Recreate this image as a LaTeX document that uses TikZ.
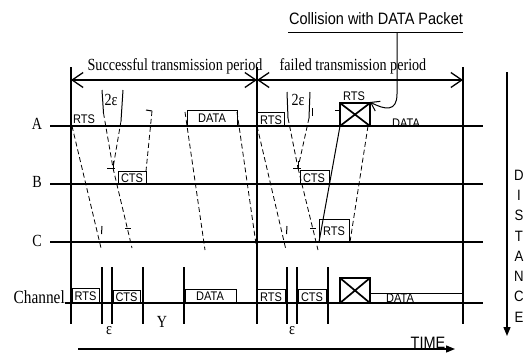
\documentclass[tikz,border=0pt]{standalone}
\usepackage{fontspec}
\setmainfont{Liberation Serif}
\newfontfamily\lblfont{Liberation Serif}[FakeStretch=0.83]
\newfontfamily\pktfont{Liberation Sans}[FakeStretch=0.88]
\usetikzlibrary{arrows.meta}

\tikzset{
  axis/.style={line width=1.3pt},
  prop/.style={line width=0.8pt, dash pattern=on 5pt off 3pt},
  pkt/.style={line width=1pt},
  xbox/.style={line width=1.7pt},
  pkttxt/.style={font=\pktfont\fontsize{12.5}{12.5}\selectfont, inner sep=0pt},
  sanstxt/.style={font=\pktfont\fontsize{16.5}{16.5}\selectfont, inner sep=0pt},
  rowtxt/.style={font=\lblfont\fontsize{17}{17}\selectfont, inner sep=0pt},
  period/.style={axis, {Straight Barb[length=11pt,width=15pt]}-{Straight Barb[length=11pt,width=15pt]}},
  bigarrow/.style={axis, -{Triangle[length=9pt,width=7pt]}}
}

\begin{document}
\begin{tikzpicture}[x=1pt,y=-1pt]
\useasboundingbox (0,0) rectangle (529,354);

%rows
\node[rowtxt] (rowA) at (37,124) {A};
\node[rowtxt] (rowB) at (37,182) {B};
\node[rowtxt] (rowC) at (37,241) {C};
\node[rowtxt, font=\lblfont\fontsize{18.5}{18.5}\selectfont, anchor=base east] (rowCh) at (65,303) {Channel};
\draw[axis] (50,126)--(483,126);
\draw[axis] (50,184)--(483,184);
\draw[axis] (50,242)--(483,242);
\draw[axis] (65,303)--(483,303);

%periods
\draw[axis] (71,67)--(71,324); \draw[axis] (257,67)--(257,324); \draw[axis] (463,67)--(463,324);
\draw[period] (71,80)--(257,80);
\draw[period] (257,80)--(463,80);
\node[rowtxt] (succ) at (175,66) {Successful transmission period};
\node[rowtxt] (fail) at (353,66) {failed transmission period};

%collision note
\node[sanstxt] (coll) at (376,19) {Collision with DATA Packet};
\draw[pkt] (288,32)--(463,32);
\draw[pkt,-{Straight Barb[length=8pt,width=11pt]}] (397,32)--(397,94) .. controls (397,112) and (385,110) .. (370,102);

%A
\node[pkttxt] (aRts) at (84,119) {RTS};
\draw[pkt] (187,126) rectangle (237,110); \node[pkttxt] (aData) at (212,118) {DATA};
\draw[pkt] (257,126) rectangle (284,112); \node[pkttxt] (aRtsb) at (271,120) {RTS};
\draw[xbox] (340,103) rectangle (370,126); \draw[xbox] (340,103)--(370,126) (370,103)--(340,126);
\node[pkttxt] (aRtsc) at (354,96) {RTS};
\node[pkttxt] (aDatab) at (406,123) {DATA};

%B
\draw[pkt] (118,184) rectangle (146,171); \node[pkttxt] (bCts) at (132,178) {CTS};
\draw[pkt] (300,184) rectangle (329,170); \node[pkttxt] (bCtsb) at (314,178) {CTS};

%C
\draw[pkt] (319,242) rectangle (349,219); \node[pkttxt] (cRts) at (334,231) {RTS};

%first period, propagation
\draw[prop] (72,126)--(101,248); \draw[pkt] (102,226)--(101.5,234);
\draw[pkt] (102,90)--(103.5,113); \draw[prop] (103.5,113)--(113,168);
\draw[pkt] (123,90)--(121,121); \draw[prop] (121,121)--(113,168);
\draw[pkt] (107,168)--(115,168) (113,161)--(113,168);
\draw[prop] (113,168)--(132,248); \draw[pkt] (125,228)--(131,228);
\draw[pkt] (146,110)--(152,111); \draw[prop] (152,111)--(146,171);
\draw[prop] (185,112)--(205,250);
\draw[prop] (237,112)--(256,244);
\node[rowtxt] (eps2a) at (111,100) {2ε};

%second period, propagation
\draw[prop] (257,126)--(286,250); \draw[pkt] (287,226)--(286.5,234);
\draw[pkt] (287,92)--(288,118); \draw[prop] (288,118)--(298,168);
\draw[pkt] (310,92)--(309,118); \draw[prop] (309,118)--(298,168);
\draw[pkt] (293,168)--(301,168) (298,161)--(298,168);
\draw[prop] (298,168)--(318,250); \draw[pkt] (310,228)--(316,228);
\draw[pkt] (312,108)--(312,116);
\draw[pkt] (319,242)--(340,126);
\draw[prop] (368,126)--(350,242);
\draw[pkt] (335,110)--(340,110);
\node[rowtxt] (eps2b) at (298,100) {2ε};

%channel
\foreach \x in {102,112,143,184,287,297,328} \draw[axis] (\x,267)--(\x,324);
\draw[pkt] (72,303) rectangle (99,288); \node[pkttxt] (chRts) at (85.5,296) {RTS};
\draw[pkt] (113,303) rectangle (140,290); \node[pkttxt] (chCts) at (126.5,297) {CTS};
\draw[pkt] (185,303) rectangle (236,289); \node[pkttxt] (chData) at (210,296) {DATA};
\draw[pkt] (257,303) rectangle (285,289); \node[pkttxt] (chRtsb) at (271,297) {RTS};
\draw[pkt] (298,303) rectangle (326,289); \node[pkttxt] (chCtsb) at (312,297) {CTS};
\draw[xbox] (340,278) rectangle (370,303); \draw[xbox] (340,278)--(370,303) (370,278)--(340,303);
\draw[pkt] (370,293)--(463,293); \node[pkttxt] (chDatab) at (400,298) {DATA};
\node[rowtxt] (epsa) at (109,331) {ε};
\node[rowtxt] (gap) at (162,322) {Y};
\node[rowtxt] (epsb) at (292,331) {ε};

%time and distance
\draw[bigarrow] (78,349)--(455,349);
\node[sanstxt, anchor=base] (time) at (428,348) {TIME};
\draw[bigarrow] (507,72)--(507,336);
\foreach \ch [count=\i from 0] in {D,I,S,T,A,N,C,E}
  \node[sanstxt, font=\pktfont\fontsize{15}{15}\selectfont] (dist\i) at (519,175+20.3*\i) {\ch};

\end{tikzpicture}
\end{document}
